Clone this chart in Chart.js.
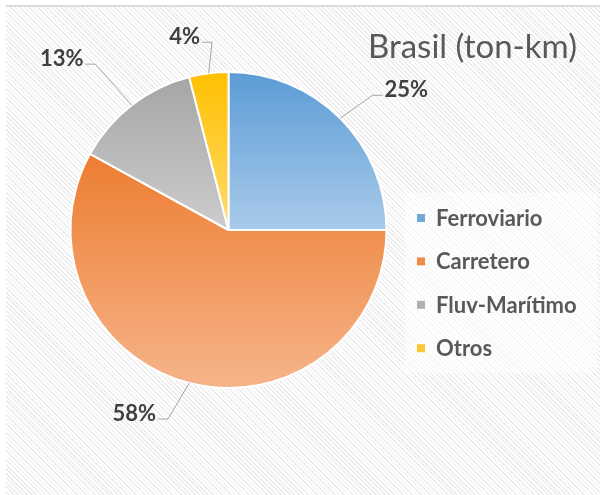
<!DOCTYPE html>
<html>
<head>
<meta charset="utf-8">
<script src="https://cdn.jsdelivr.net/npm/chart.js@4.4.1/dist/chart.umd.min.js"></script>
<style>
  html, body { margin: 0; padding: 0; background: #fff; }
  #wrap { position: relative; width: 600px; height: 495px; overflow: hidden; }
  #bg {
    position: absolute; left: 6px; top: 5px; right: 0; bottom: 0;
    border-top: 2px solid #dcdcdc;
    background: repeating-linear-gradient(45deg, #ffffff 0px, #ffffff 2px, #ececec 2px, #ececec 3.2px);
  }
  #chart { position: absolute; left: 0; top: 0; }
</style>
</head>
<body>
<div id="wrap">
  <div id="bg"></div>
  <canvas id="chart" width="600" height="495"></canvas>
</div>
<script>
const TITLE = "Brasil (ton-km)";
const labels = ["Ferroviario", "Carretero", "Fluv-Marítimo", "Otros"];
const values = [25, 58, 13, 4];

// gradient colors (top -> bottom of each slice)
const topColors = ["#5B9BD5", "#ED7D31", "#A5A5A5", "#FFC000"];
const bottomColors = ["#A9CBEA", "#F6B48A", "#CDCDCD", "#FFDB6E"];
const legendColors = ["#6FA7DB", "#F08C4A", "#B0B0B0", "#FFC833"];

// label offsets from the slice edge point (px)
const labelOffsets = [[66, -28], [-55, 31], [-70, -46], [-24, -36]];

const TEXT = "#404040";
const FONT = "Lato, 'Open Sans', sans-serif";

// vertical extent of a slice, used for its gradient
function sliceYRange(area, i) {
  const total = values.reduce((a, b) => a + b, 0);
  let start = -Math.PI / 2;
  for (let k = 0; k < i; k++) start += values[k] / total * Math.PI * 2;
  const end = start + values[i] / total * Math.PI * 2;
  const cy = (area.top + area.bottom) / 2;
  const r = Math.min(area.right - area.left, area.bottom - area.top) / 2;
  const ys = [cy, cy + r * Math.sin(start), cy + r * Math.sin(end)];
  [Math.PI / 2, Math.PI * 3 / 2, -Math.PI / 2].forEach(a => {
    if (a > start && a < end) ys.push(cy + r * Math.sin(a));
  });
  return [Math.min(...ys), Math.max(...ys)];
}

function sliceColor(c) {
  const chart = c.chart;
  const area = chart.chartArea;
  if (!area) return topColors[c.dataIndex];
  const [y0, y1] = sliceYRange(area, c.dataIndex);
  const g = chart.ctx.createLinearGradient(0, y0, 0, y1);
  g.addColorStop(0, topColors[c.dataIndex]);
  g.addColorStop(1, bottomColors[c.dataIndex]);
  return g;
}

const decorPlugin = {
  id: "decor",
  afterDraw(chart) {
    const ctx = chart.ctx;
    ctx.save();

    // title
    ctx.fillStyle = "#595959";
    ctx.font = "33px " + FONT;
    ctx.textAlign = "right";
    ctx.textBaseline = "middle";
    ctx.fillText(TITLE, 577, 47);

    // legend
    ctx.fillStyle = "rgba(255,255,255,0.55)";
    ctx.fillRect(405, 193, 192, 180);
    ctx.font = "bold 22px " + FONT;
    ctx.textAlign = "left";
    labels.forEach((lab, i) => {
      const y = 218 + i * 43.4;
      ctx.fillStyle = legendColors[i];
      ctx.fillRect(417, y - 4, 8, 8);
      ctx.fillStyle = "#595959";
      ctx.fillText(lab, 436, y + 1);
    });

    // data labels with leader lines
    const total = values.reduce((a, b) => a + b, 0);
    const meta = chart.getDatasetMeta(0);
    meta.data.forEach((arc, i) => {
      const mid = (arc.startAngle + arc.endAngle) / 2;
      const ex = arc.x + arc.outerRadius * Math.cos(mid);
      const ey = arc.y + arc.outerRadius * Math.sin(mid);
      const lx = ex + labelOffsets[i][0];
      const ly = ey + labelOffsets[i][1];
      const txt = Math.round(values[i] / total * 100) + "%";
      ctx.font = "bold 22px " + FONT;
      const hw = ctx.measureText(txt).width / 2;
      const left = lx < ex;
      const sx = left ? lx + hw + 2 : lx - hw - 2;
      const bx = left ? sx + 10 : sx - 10;
      ctx.strokeStyle = "#a6a6a6";
      ctx.lineWidth = 1;
      ctx.beginPath();
      ctx.moveTo(sx, ly + 5);
      ctx.lineTo(bx, ly + 5);
      ctx.lineTo(ex, ey);
      ctx.stroke();
      ctx.fillStyle = TEXT;
      ctx.textAlign = "center";
      ctx.fillText(txt, lx, ly);
    });
    ctx.restore();
  }
};

new Chart(document.getElementById("chart"), {
  type: "pie",
  data: {
    labels: labels,
    datasets: [{
      data: values,
      backgroundColor: sliceColor,
      borderColor: "#ffffff",
      borderWidth: 2
    }]
  },
  options: {
    responsive: false,
    animation: false,
    layout: { padding: { left: 69, right: 212, top: 71, bottom: 106 } },
    plugins: {
      legend: { display: false },
      tooltip: { enabled: false }
    }
  },
  plugins: [decorPlugin]
});
</script>
</body>
</html>
